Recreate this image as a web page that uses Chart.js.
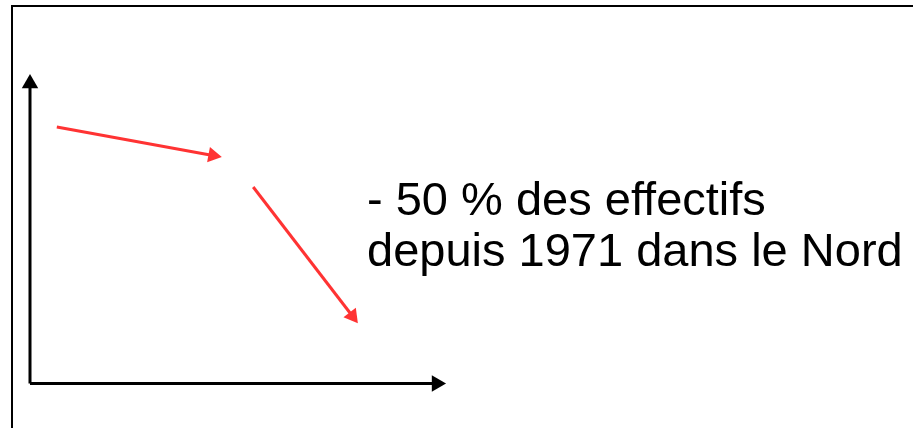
<!DOCTYPE html>
<html>
<head>
<meta charset="utf-8">
<script src="https://cdn.jsdelivr.net/npm/chart.js@4"></script>
<style>
  html, body { margin: 0; padding: 0; background: #ffffff; }
  #wrap { width: 913px; height: 428px; }
</style>
</head>
<body>
<div id="wrap"><canvas id="c" width="913" height="428"></canvas></div>
<script>
// Schematic data (abstract units: axes run from 0 to 100)
const axisY = [{x: 0, y: 0}, {x: 0, y: 100}];
const axisX = [{x: 0, y: 0}, {x: 100, y: 0}];
// Trend of "effectifs" in two phases (start point, arrow head)
const phase1 = [{x: 6.6, y: 85.5}, {x: 45.0, y: 76.0}];
const phase2 = [{x: 54.9, y: 65.5}, {x: 79.3, y: 22.5}];
const labelLines = ["- 50 % des effectifs", "depuis 1971 dans le Nord"];
const labelAnchor = {x: 82.9, y: 56.2};

function headRotation(ctx) {
  const data = ctx.dataset.data;
  const ch = ctx.chart;
  const xs = ch.scales.x, ys = ch.scales.y;
  const a = data[0], b = data[data.length - 1];
  const dx = xs.getPixelForValue(b.x) - xs.getPixelForValue(a.x);
  const dy = ys.getPixelForValue(b.y) - ys.getPixelForValue(a.y);
  return Math.atan2(dx, -dy) * 180 / Math.PI;
}

function arrowDataset(data, color, headR) {
  return {
    data: data,
    showLine: true,
    borderColor: color,
    borderWidth: 3,
    borderCapStyle: 'butt',
    pointStyle: 'triangle',
    pointRadius: [0, headR],
    pointBorderWidth: 0,
    pointBackgroundColor: color,
    pointRotation: headRotation,
    clip: false,
    tension: 0
  };
}

const framePlugin = {
  id: 'frame',
  beforeDraw(chart) {
    const c = chart.ctx;
    c.save();
    c.fillStyle = '#ffffff';
    c.fillRect(0, 0, chart.width, chart.height);
    c.strokeStyle = '#000000';
    c.lineWidth = 2;
    c.beginPath();
    c.moveTo(12, chart.height + 5);
    c.lineTo(12, 6);
    c.lineTo(chart.width + 5, 6);
    c.stroke();
    c.restore();
  }
};

const labelPlugin = {
  id: 'label',
  afterDatasetsDraw(chart) {
    const c = chart.ctx;
    const x = chart.scales.x.getPixelForValue(labelAnchor.x);
    const y = chart.scales.y.getPixelForValue(labelAnchor.y);
    c.save();
    c.fillStyle = '#000000';
    c.font = '47px "Liberation Sans", Arial, sans-serif';
    c.textAlign = 'left';
    c.textBaseline = 'alphabetic';
    labelLines.forEach((t, i) => c.fillText(t, x, y + i * 51.5));
    c.restore();
  }
};

new Chart(document.getElementById('c'), {
  type: 'scatter',
  data: {
    datasets: [
      arrowDataset(axisY, '#000000', 9.5),
      arrowDataset(axisX, '#000000', 9.5),
      arrowDataset(phase1, '#ff3333', 9),
      arrowDataset(phase2, '#ff3333', 9)
    ]
  },
  options: {
    responsive: false,
    animation: false,
    devicePixelRatio: 1,
    events: [],
    layout: { padding: 0, autoPadding: false },
    plugins: { legend: { display: false }, tooltip: { enabled: false } },
    scales: {
      x: { type: 'linear', display: false, min: -7.38, max: 217.2 },
      y: { type: 'linear', display: false, min: -14.83, max: 127.83 }
    }
  },
  plugins: [framePlugin, labelPlugin]
});
</script>
</body>
</html>
